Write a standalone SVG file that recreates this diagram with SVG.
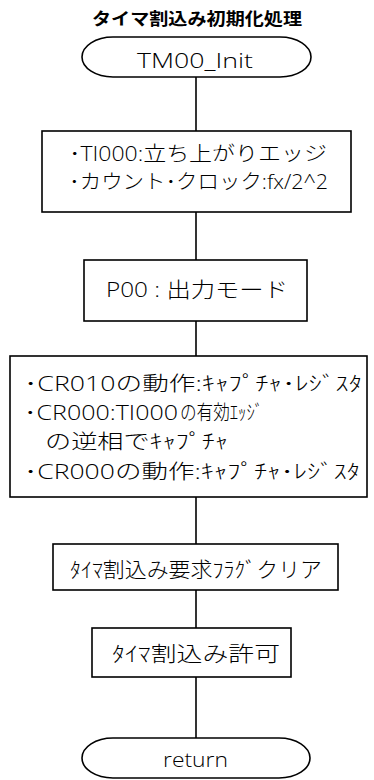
<svg xmlns="http://www.w3.org/2000/svg" width="374" height="780" viewBox="0 0 374 780">
<style>
.s{fill:#fff;stroke:#000;stroke-width:1.6}
.c{stroke:#000;stroke-width:1.6;fill:none}
text{font-family:"Open Sans","Liberation Sans",sans-serif;fill:#000;font-weight:300}
.j{font-family:"Noto Sans CJK JP",sans-serif;font-weight:300}
.t{font-size:21px}
.b{font-size:20px}
</style>
<rect width="374" height="780" fill="#fff"/>
<g id="connectors">
<line class="c" x1="196" y1="77" x2="196" y2="131"/>
<line class="c" x1="196" y1="212" x2="196" y2="260"/>
<line class="c" x1="196" y1="321" x2="196" y2="356"/>
<line class="c" x1="196" y1="497" x2="196" y2="544"/>
<line class="c" x1="196" y1="590" x2="196" y2="628"/>
<line class="c" x1="196" y1="677" x2="196" y2="738"/>
</g>
<g id="title">
<text x="92" y="25" font-size="17" style="font-weight:bold;font-family:'Noto Sans CJK JP',sans-serif" textLength="210" lengthAdjust="spacingAndGlyphs">タイマ割込み初期化処理</text>
</g>
<g id="start">
<path class="s" d="M113,37 H280 A31,20 0 0 1 280,77 H113 A31,20 0 0 1 113,37 Z"/>
<text class="t" x="137" y="68" textLength="116" lengthAdjust="spacingAndGlyphs">TM00_Init</text>
</g>
<g id="box1">
<rect class="s" x="42" y="131" width="309" height="81"/>
<text class="b" x="69" y="161" textLength="258" lengthAdjust="spacingAndGlyphs"><tspan class="j">･</tspan>TI000:<tspan class="j">立ち上がりエッジ</tspan></text>
<text class="b" x="69" y="189" textLength="259" lengthAdjust="spacingAndGlyphs"><tspan class="j">･カウント･クロック</tspan>:fx/2^2</text>
</g>
<g id="box2">
<rect class="s" x="84" y="260" width="223" height="61"/>
<text class="t" x="106" y="297" textLength="182" lengthAdjust="spacingAndGlyphs">P00 : <tspan class="j">出力モード</tspan></text>
</g>
<g id="box3">
<rect class="s" x="10" y="356" width="357" height="141"/>
<text class="b" x="24" y="391" textLength="338" lengthAdjust="spacingAndGlyphs"><tspan class="j">･</tspan>CR010<tspan class="j">の動作</tspan>:<tspan class="j">ｷｬﾌﾟﾁｬ･ﾚｼﾞｽﾀ</tspan></text>
<text class="b" y="420"><tspan x="24" textLength="154" lengthAdjust="spacingAndGlyphs"><tspan class="j">･</tspan>CR000:TI000</tspan><tspan class="j" x="180" textLength="83" lengthAdjust="spacingAndGlyphs">の有効ｴｯｼﾞ</tspan></text>
<text class="b j" x="45" y="449" textLength="183" lengthAdjust="spacingAndGlyphs">の逆相でｷｬﾌﾟﾁｬ</text>
<text class="b" x="24" y="479" textLength="336" lengthAdjust="spacingAndGlyphs"><tspan class="j">･</tspan>CR000<tspan class="j">の動作</tspan>:<tspan class="j">ｷｬﾌﾟﾁｬ･ﾚｼﾞｽﾀ</tspan></text>
</g>
<g id="box4">
<rect class="s" x="53" y="544" width="285" height="46"/>
<text class="t j" x="70" y="577" textLength="252" lengthAdjust="spacingAndGlyphs">ﾀｲﾏ割込み要求ﾌﾗｸﾞクリア</text>
</g>
<g id="box5">
<rect class="s" x="92" y="628" width="199" height="49"/>
<text class="t j" x="112" y="661" textLength="168" lengthAdjust="spacingAndGlyphs">ﾀｲﾏ割込み許可</text>
</g>
<g id="end">
<path class="s" d="M113,738 H279 A31,20 0 0 1 279,778 H113 A31,20 0 0 1 113,738 Z"/>
<text class="t" x="163" y="767" textLength="65" lengthAdjust="spacingAndGlyphs">return</text>
</g>
</svg>
